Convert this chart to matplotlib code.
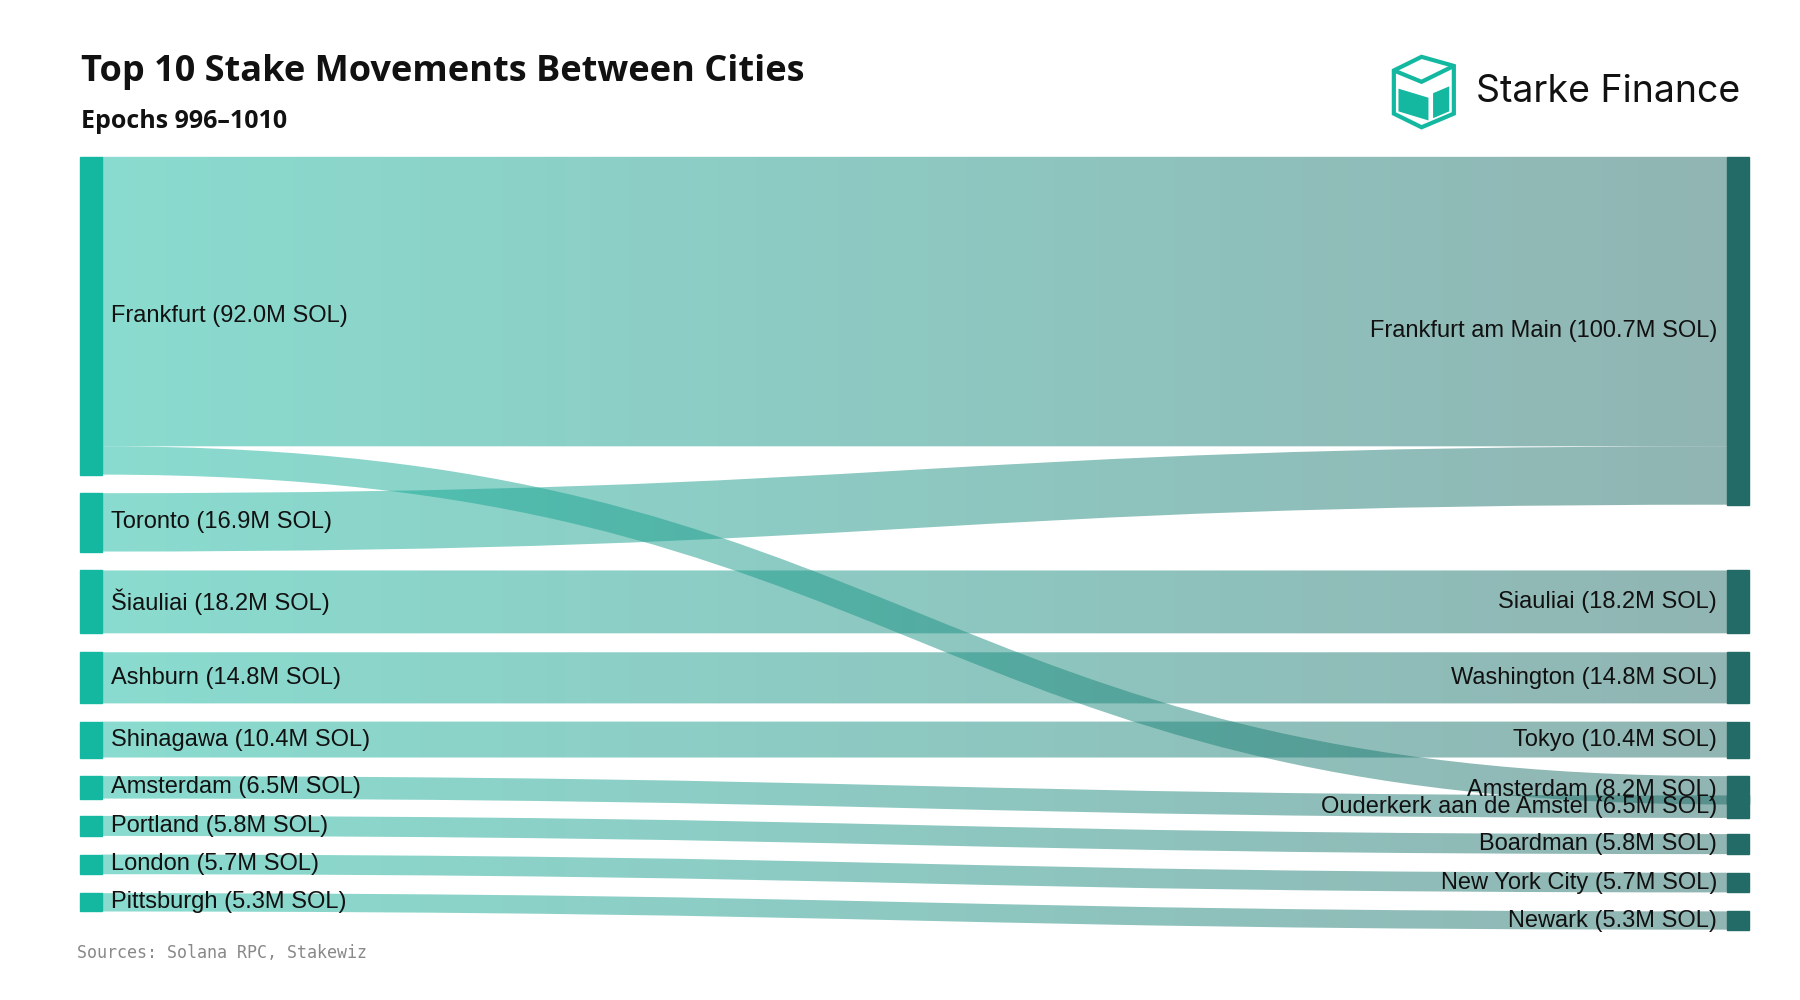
import matplotlib.pyplot as plt
import numpy as np
from matplotlib.path import Path
from matplotlib.patches import PathPatch, Rectangle, Polygon
from matplotlib.colors import LinearSegmentedColormap

# data
sources = ["Frankfurt", "Toronto", "Šiauliai", "Ashburn", "Shinagawa",
           "Amsterdam", "Portland", "London", "Pittsburgh"]
source_vals = [92.0, 16.9, 18.2, 14.8, 10.4, 6.5, 5.8, 5.7, 5.3]
targets = ["Frankfurt am Main", "Siauliai", "Washington", "Tokyo", "Amsterdam",
           "Ouderkerk aan de Amstel", "Boardman", "New York City", "Newark"]
target_vals = [100.7, 18.2, 14.8, 10.4, 8.2, 6.5, 5.8, 5.7, 5.3]
# links: (source index, target index, value)
link_src = [0, 0, 1, 2, 3, 4, 5, 6, 7, 8]
link_tgt = [0, 4, 0, 1, 2, 3, 5, 6, 7, 8]
link_val = [83.8, 8.2, 16.9, 18.2, 14.8, 10.4, 6.5, 5.8, 5.7, 5.3]

# layout (reference pixel space)
scale = 3.04
src_top = [138, 434, 502, 574, 635, 683, 718, 752, 786]
tgt_top = [138, 502, 574, 635, 683, 700, 734, 768, 802]
xl0, xl1 = 69, 88
xr0, xr1 = 1497, 1516

fig = plt.figure(figsize=(18, 10), dpi=100)
ax = fig.add_axes([0, 0, 1, 1])

cmap = LinearSegmentedColormap.from_list("g", ["#14b8a0", "#226b67"])
grad = np.linspace(0, 1, 256).reshape(1, -1)

s_off = [0.0] * len(sources)
t_off = [0.0] * len(targets)
for s, t, v in zip(link_src, link_tgt, link_val):
    h = v * scale
    y0 = src_top[s] + s_off[s]
    y1 = tgt_top[t] + t_off[t]
    s_off[s] += h
    t_off[t] += h
    xm = (xl1 + xr0) / 2
    verts = [(xl1, y0), (xm, y0), (xm, y1), (xr0, y1),
             (xr0, y1 + h), (xm, y1 + h), (xm, y0 + h), (xl1, y0 + h), (xl1, y0)]
    codes = [Path.MOVETO, Path.CURVE4, Path.CURVE4, Path.CURVE4,
             Path.LINETO, Path.CURVE4, Path.CURVE4, Path.CURVE4, Path.CLOSEPOLY]
    patch = PathPatch(Path(verts, codes), facecolor="none", edgecolor="none")
    ax.add_patch(patch)
    im = ax.imshow(grad, cmap=cmap, extent=[xl1, xr0, 880, 0], aspect="auto",
                   alpha=0.5, zorder=1)
    im.set_clip_path(patch)

ax.set_xlim(0, 1560)
ax.set_ylim(880, 0)
ax.axis("off")

for name, v, top in zip(sources, source_vals, src_top):
    h = v * scale
    ax.add_patch(Rectangle((xl0, top), xl1 - xl0, h, color="#14b8a0", zorder=3))
    ax.text(96, top + h / 2, f"{name} ({v:.1f}M SOL)", ha="left", va="center",
            fontsize=17, family="Liberation Sans", color="#111111", zorder=4)
for name, v, top in zip(targets, target_vals, tgt_top):
    h = v * scale
    ax.add_patch(Rectangle((xr0, top), xr1 - xr0, h, color="#226b67", zorder=3))
    ax.text(1488, top + h / 2, f"{name} ({v:.1f}M SOL)", ha="right", va="center",
            fontsize=17, family="Liberation Sans", color="#111111", zorder=4)

ax.text(70, 63, "Top 10 Stake Movements Between Cities", fontsize=26,
        fontweight="bold", family="Open Sans", va="center", color="#111111")
ax.text(70, 107, "Epochs 996–1010", fontsize=18, fontweight="bold",
        family="Open Sans", va="center", color="#111111")
ax.text(67, 839, "Sources: Solana RPC, Stakewiz", fontsize=12,
        family="DejaVu Sans Mono", va="center", color="#888888")

# logo
ax.add_patch(Polygon([(1208, 62), (1232, 50), (1260, 58), (1260, 100), (1232, 112), (1208, 100)],
                     closed=True, facecolor="#ffffff", edgecolor="#14b8a0", lw=3))
ax.add_patch(Polygon([(1208, 62), (1232, 72), (1260, 58)], closed=False,
                     fill=False, edgecolor="#14b8a0", lw=3))
ax.add_patch(Polygon([(1212, 78), (1238, 86), (1238, 106), (1212, 98)],
                     closed=True, facecolor="#14b8a0", edgecolor="none"))
ax.add_patch(Polygon([(1242, 82), (1256, 76), (1256, 98), (1242, 104)],
                     closed=True, facecolor="#14b8a0", edgecolor="none"))
ax.text(1279, 81, "Starke Finance", fontsize=27, family="Inter", va="center",
        color="#111111")

fig.savefig("out.png", dpi=100)
